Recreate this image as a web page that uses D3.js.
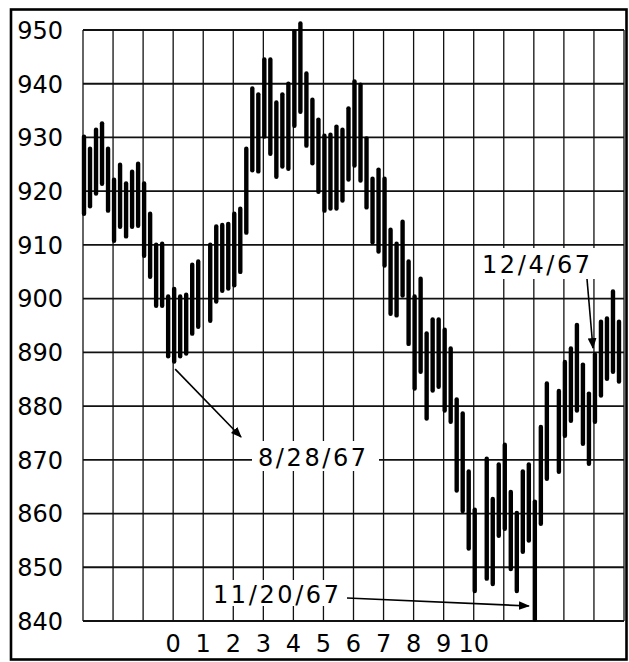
<!DOCTYPE html>
<html><head><meta charset="utf-8">
<script src="https://cdn.jsdelivr.net/npm/d3@7"></script>
<style>html,body{margin:0;padding:0;background:#fff;}svg{display:block;}</style>
</head><body>
<script>
// Daily high-low ranges, 1967 (market closed 9/4, 11/7, 11/23)
const dates = [
 "8/7/67","8/8/67","8/9/67","8/10/67","8/11/67",
 "8/14/67","8/15/67","8/16/67","8/17/67","8/18/67",
 "8/21/67","8/22/67","8/23/67","8/24/67","8/25/67",
 "8/28/67","8/29/67","8/30/67","8/31/67","9/1/67",
 "9/5/67","9/6/67","9/7/67","9/8/67",
 "9/11/67","9/12/67","9/13/67","9/14/67","9/15/67",
 "9/18/67","9/19/67","9/20/67","9/21/67","9/22/67",
 "9/25/67","9/26/67","9/27/67","9/28/67","9/29/67",
 "10/2/67","10/3/67","10/4/67","10/5/67","10/6/67",
 "10/9/67","10/10/67","10/11/67","10/12/67","10/13/67",
 "10/16/67","10/17/67","10/18/67","10/19/67","10/20/67",
 "10/23/67","10/24/67","10/25/67","10/26/67","10/27/67",
 "10/30/67","10/31/67","11/1/67","11/2/67","11/3/67",
 "11/6/67","11/8/67","11/9/67","11/10/67",
 "11/13/67","11/14/67","11/15/67","11/16/67","11/17/67",
 "11/20/67","11/21/67","11/22/67","11/24/67",
 "11/27/67","11/28/67","11/29/67","11/30/67","12/1/67",
 "12/4/67","12/5/67","12/6/67","12/7/67","12/8/67"
];
const highs = [
 930.4,928.2,931.7,932.9,928.2,
 922.4,925.2,921.7,923.9,925.4,
 921.7,916.1,910.3,910.5,900.7,
 902.1,900.7,901.0,906.6,907.2,
 910.3,913.7,914.0,914.2,
 916.1,917.0,928.2,939.4,938.3,
 944.8,944.8,936.8,938.3,940.3,
 950.0,951.5,942.2,937.3,933.6,
 930.6,930.8,932.3,931.7,935.7,
 940.7,940.1,930.1,922.6,924.3,
 922.6,913.1,910.5,914.6,907.2,
 900.7,904.0,893.8,896.4,896.4,
 894.5,891.0,881.5,878.9,868.1,
 861.0,870.5,863.0,869.4,
 873.1,864.3,860.4,868.1,869.4,
 862.5,876.4,884.5,883.1,
 888.5,891.0,895.4,888.0,882.6,
 889.9,896.0,896.6,901.6,896.0
];
const lows = [
 915.5,916.9,919.3,921.1,916.1,
 910.5,913.1,911.3,913.1,913.3,
 907.7,903.8,898.4,898.4,889.0,
 888.0,889.0,889.5,893.2,894.5,
 895.6,899.2,901.2,901.6,
 902.2,904.7,912.0,923.6,923.4,
 929.9,926.7,922.4,924.3,923.9,
 931.9,934.5,928.2,924.9,919.6,
 916.1,916.5,916.5,918.0,921.9,
 924.5,921.7,916.7,910.2,908.5,
 905.9,896.9,896.6,900.3,891.3,
 883.0,886.1,877.4,882.6,883.3,
 878.9,876.8,864.0,860.2,853.2,
 845.3,847.6,846.6,855.6,
 856.9,849.4,845.3,852.6,854.7,
 840.0,857.8,866.2,867.5,
 874.2,877.0,878.9,872.7,869.0,
 876.8,881.7,884.8,886.1,884.3
];
const yTicks = [840,850,860,870,880,890,900,910,920,930,940,950];
const xTickLabels = ["0","1","2","3","4","5","6","7","8","9","10"];
const annotations = [
  {text:"8/28/67", date:"8/28/67"},
  {text:"11/20/67", date:"11/20/67"},
  {text:"12/4/67", date:"12/4/67"}
];

const W = 629, H = 662;
const svg = d3.select("body").append("svg").attr("width",W).attr("height",H);
const parseFull = d3.timeParse("%m/%d/%Y");
const parse = s => parseFull(s.replace(/\/(\d\d)$/, "/19$1"));
const start = parse(dates[0]);
function dayIndex(s){ const d = parse(s); return d3.timeMonday.count(start, d)*5 + (d.getDay()-1); }

const x = d3.scaleLinear().domain([0,90]).range([83,624]);
const y = d3.scaleLinear().domain([840,950]).range([621,30]);
const font = "DejaVu Sans, sans-serif";

// outer frame
svg.append("rect").attr("x",11).attr("y",9.5).attr("width",615.5).attr("height",650)
  .attr("fill","none").attr("stroke","#000").attr("stroke-width",2.6);

// grid
const g = svg.append("g");
g.selectAll("line.h").data(yTicks).join("line")
  .attr("x1",x(0)).attr("x2",x(90)).attr("y1",d=>y(d)).attr("y2",d=>y(d))
  .attr("stroke","#111").attr("stroke-width",1.8);
g.selectAll("line.v").data(d3.range(0,91,5)).join("line")
  .attr("x1",d=>x(d)).attr("x2",d=>x(d)).attr("y1",y(950)).attr("y2",y(840))
  .attr("stroke","#111").attr("stroke-width",1.3);

// masks behind annotation labels
const masks = [[252,441,127,30],[209,580,137,26],[478,248,118,31]];
svg.selectAll("rect.mask").data(masks).join("rect")
  .attr("x",d=>d[0]).attr("y",d=>d[1]).attr("width",d=>d[2]).attr("height",d=>d[3]).attr("fill","#fff");

// bars
svg.append("g").selectAll("line").data(dates).join("line")
  .attr("x1",(d)=>x(dayIndex(d))+1).attr("x2",(d)=>x(dayIndex(d))+1)
  .attr("y1",(d,i)=>y(highs[i])+1.5).attr("y2",(d,i)=>y(lows[i])-1.5)
  .attr("stroke","#000").attr("stroke-width",4.4).attr("stroke-linecap","round");

// y labels
svg.append("g").selectAll("text").data(yTicks).join("text")
  .attr("x",63).attr("y",d=>y(d)+8.8).attr("text-anchor","end")
  .attr("font-family",font).attr("font-size",24).attr("fill","#000").text(d=>d);

// x labels
svg.append("g").selectAll("text").data(xTickLabels).join("text")
  .attr("x",(d,i)=>x((i+3)*5)).attr("y",652).attr("text-anchor","middle")
  .attr("font-family",font).attr("font-size",24).attr("fill","#000").text(d=>d);

// arrow marker
svg.append("defs").append("marker").attr("id","ah").attr("viewBox","0 0 10 10")
  .attr("refX",9).attr("refY",5).attr("markerWidth",11).attr("markerHeight",11)
  .attr("markerUnits","userSpaceOnUse").attr("orient","auto")
  .append("path").attr("d","M0,1 L10,5 L0,9 Z").attr("fill","#000");

// annotations
const idx = annotations.map(a=>dayIndex(a.date));
const labelPos = [[258,466],[213,603],[482,273]];
const arrows = [
  [x(idx[0])+2, y(lows[dates.indexOf("8/28/67")])+6, 241, 437],
  [347, 598, x(idx[1])-5, 606],
  [587, 279, x(idx[2])-1, 348]
];
svg.append("g").selectAll("line").data(arrows).join("line")
  .attr("x1",d=>d[0]).attr("y1",d=>d[1]).attr("x2",d=>d[2]).attr("y2",d=>d[3])
  .attr("stroke","#000").attr("stroke-width",1.6).attr("marker-end","url(#ah)");
svg.append("g").selectAll("text").data(annotations).join("text")
  .attr("x",(d,i)=>labelPos[i][0]).attr("y",(d,i)=>labelPos[i][1])
  .attr("font-family",font).attr("font-size",24).attr("letter-spacing",2.6)
  .attr("fill","#000").text(d=>d.text);
</script>
</body></html>
